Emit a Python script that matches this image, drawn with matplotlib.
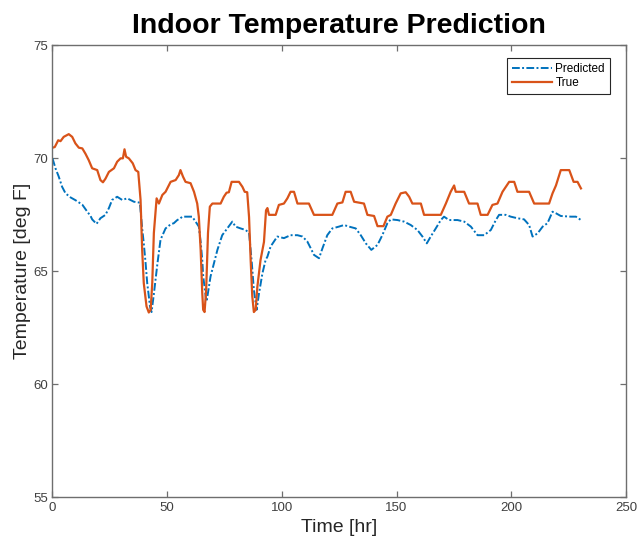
import matplotlib
matplotlib.use("Agg")
import matplotlib.pyplot as plt

# True indoor temperature
t_true = [0, 1.0, 2.5, 3.5, 4.9, 7.1, 8.6, 10, 11.5, 13, 14.4, 15.8, 17.3, 19.5, 20.9, 22, 23.1,
          24.6, 26.8, 28.2, 29.7, 30.7, 31.4, 32.1, 33.3, 35, 36.2, 37.4, 38.4, 39.1, 39.8, 41,
          42, 42.8, 43.5, 44.2, 45.4, 46.4, 47.9, 49.3, 51.5, 53.7, 55.1, 55.8, 56.9, 58, 60.2,
          61.7, 63.1, 63.8, 64.6, 65.3, 65.7, 66.3, 67, 67.8, 68.6, 69.7, 73.3, 74.7, 75.9, 76.9,
          78.1, 81.3, 82.8, 83.8, 84.9, 85.7, 86.4, 87.1, 87.8, 88.6, 89.3, 90.7, 92.2, 93.1,
          93.7, 94.4, 97.3, 98.7, 100.9, 102.4, 103.8, 105.3, 106.8, 111.8, 114, 122, 124.2,
          126.4, 127.8, 130, 131.5, 135.8, 137.3, 140.2, 141.7, 144.3, 146, 147.5, 149.6, 151.8,
          154, 155.5, 156.9, 160.6, 162, 169.3, 171.5, 173.6, 175.1, 175.8, 179.5, 181.6, 185.3,
          186.7, 189.7, 191.8, 194, 196.2, 199.1, 201.3, 202.7, 207.8, 210, 216.5, 218, 219.5,
          221.6, 225.3, 227.2, 228.9, 230.4]
T_true = [70.47, 70.5, 70.8, 70.76, 70.95, 71.07, 70.95, 70.66, 70.47, 70.44, 70.2, 69.92, 69.56,
          69.48, 69.04, 68.94, 69.1, 69.4, 69.56, 69.85, 70.0, 70.0, 70.4, 70.07, 70.0, 69.78,
          69.48, 69.4, 68.16, 65.95, 64.48, 63.45, 63.18, 63.3, 64.48, 66.7, 68.23, 68.0, 68.38,
          68.52, 68.96, 69.04, 69.26, 69.48, 69.19, 68.96, 68.9, 68.52, 68.0, 67.42, 65.95, 64.04,
          63.3, 63.2, 64.18, 66.7, 67.86, 68.0, 68.0, 68.3, 68.48, 68.5, 68.96, 68.96, 68.74,
          68.52, 68.5, 67.4, 65.5, 63.9, 63.2, 63.3, 64.3, 65.5, 66.3, 67.7, 67.8, 67.5, 67.5,
          67.94, 68.0, 68.23, 68.52, 68.52, 68.0, 68.0, 67.5, 67.5, 68.0, 68.05, 68.52, 68.52,
          68.08, 68.0, 67.5, 67.45, 67.0, 67.0, 67.42, 67.5, 68.0, 68.45, 68.5, 68.3, 68.0, 68.0,
          67.5, 67.5, 68.0, 68.52, 68.8, 68.52, 68.52, 68.0, 68.0, 67.5, 67.5, 67.94, 68.0, 68.52,
          68.96, 68.96, 68.52, 68.52, 68.0, 68.0, 68.45, 68.8, 69.48, 69.48, 68.96, 68.96, 68.67]

# Predicted indoor temperature
t_pred = [0, 1.3, 2.7, 4.2, 5.7, 7.9, 10, 13, 15.1, 16.6, 17.3, 19.2, 20.9, 23.1, 24.6, 26, 28.2,
          30.4, 32.6, 35.5, 38.1, 39.1, 39.8, 40.6, 41.3, 42, 42.5, 43.2, 44.2, 45.7, 47.1, 49.3,
          51.5, 52.9, 54.4, 55.8, 56.6, 58.8, 60.9, 62.4, 63.8, 64.6, 65.3, 65.7, 66.3, 66.8,
          67.2, 68.9, 71.9, 74, 76.2, 78.4, 79.8, 82, 84.2, 85.7, 86.8, 87.8, 89.0, 90.0, 91.5,
          92.9, 93.7, 95.1, 98, 100.9, 103.8, 106.8, 109, 111.1, 112.6, 114, 116.2, 117.7, 119.8,
          122, 124.9, 127.1, 129.3, 132.2, 134.4, 136.6, 139, 141.7, 143.8, 146, 147.5, 150.4,
          153.3, 156.2, 159.1, 161.3, 163.2, 164.9, 167.1, 169.3, 170.7, 172.9, 176.6, 179.5,
          182.4, 185.3, 188.2, 191.1, 193.3, 194.7, 197.6, 199.8, 202.7, 205.6, 207.8, 209.3,
          211.5, 213.7, 215.8, 218, 219.5, 221.6, 226, 228.2, 230.4]
T_pred = [70.0, 69.56, 69.2, 68.74, 68.45, 68.27, 68.15, 67.95, 67.65, 67.45, 67.3, 67.1, 67.35,
          67.5, 67.8, 68.16, 68.3, 68.16, 68.23, 68.08, 68.04, 66.9, 66.24, 65.36, 64.48, 63.9,
          63.45, 63.2, 64.0, 65.3, 66.4, 66.9, 67.08, 67.13, 67.27, 67.35, 67.42, 67.42, 67.42,
          67.2, 66.98, 66.3, 65.5, 64.8, 64.3, 63.9, 63.67, 64.77, 65.95, 66.6, 66.9, 67.2, 66.98,
          66.9, 66.83, 66.7, 65.5, 64.18, 63.3, 64.0, 64.9, 65.5, 65.65, 66.1, 66.54, 66.47, 66.6,
          66.6, 66.54, 66.32, 66.02, 65.73, 65.58, 66.02, 66.6, 66.9, 66.98, 67.05, 66.98, 66.9,
          66.6, 66.24, 65.95, 66.17, 66.6, 67.13, 67.3, 67.27, 67.2, 67.05, 66.83, 66.54, 66.24,
          66.54, 66.9, 67.27, 67.42, 67.27, 67.27, 67.2, 66.98, 66.6, 66.6, 66.83, 67.27, 67.5,
          67.5, 67.42, 67.35, 67.3, 67.05, 66.54, 66.68, 66.98, 67.13, 67.64, 67.57, 67.45, 67.42,
          67.42, 67.27]

x_ticks = [0, 50, 100, 150, 200, 250]
y_ticks = [55, 60, 65, 70, 75]

plt.rcParams['font.family'] = ['Liberation Sans', 'DejaVu Sans']

fig = plt.figure(figsize=(6.4, 5.46), dpi=100)
ax = fig.add_axes([0.082, 0.089, 0.896, 0.828])

ax.plot(t_pred, T_pred, linestyle=(0, (4, 1.2, 1, 1.2)), color='#0072BD', linewidth=1.4,
        label='Predicted')
ax.plot(t_true, T_true, linestyle='-', color='#D95319', linewidth=1.6, label='True')

ax.set_xlim(0, 250)
ax.set_ylim(55, 75)
ax.set_xticks(x_ticks)
ax.set_yticks(y_ticks)
ax.tick_params(direction='in', top=True, right=True, length=4, width=0.9,
               colors='#6e6e6e', labelsize=9.5, labelcolor='#404040', pad=3)
for s in ax.spines.values():
    s.set_color('#6e6e6e')
    s.set_linewidth(1.0)

ax.set_xlabel('Time [hr]', fontsize=14, color='#262626', labelpad=4)
ax.set_ylabel('Temperature [deg F]', fontsize=14, color='#262626', labelpad=2)
ax.set_title('Indoor Temperature Prediction', fontsize=20.5, fontweight='bold', pad=9)

leg = ax.legend(loc='upper right', fontsize=8.5, fancybox=False, edgecolor='#262626',
                framealpha=1, handlelength=3.4, borderpad=0.4, labelspacing=0.2,
                handletextpad=0.3, bbox_to_anchor=(0.982, 0.985))
leg.get_frame().set_linewidth(0.8)

fig.savefig('out.png', dpi=100)
